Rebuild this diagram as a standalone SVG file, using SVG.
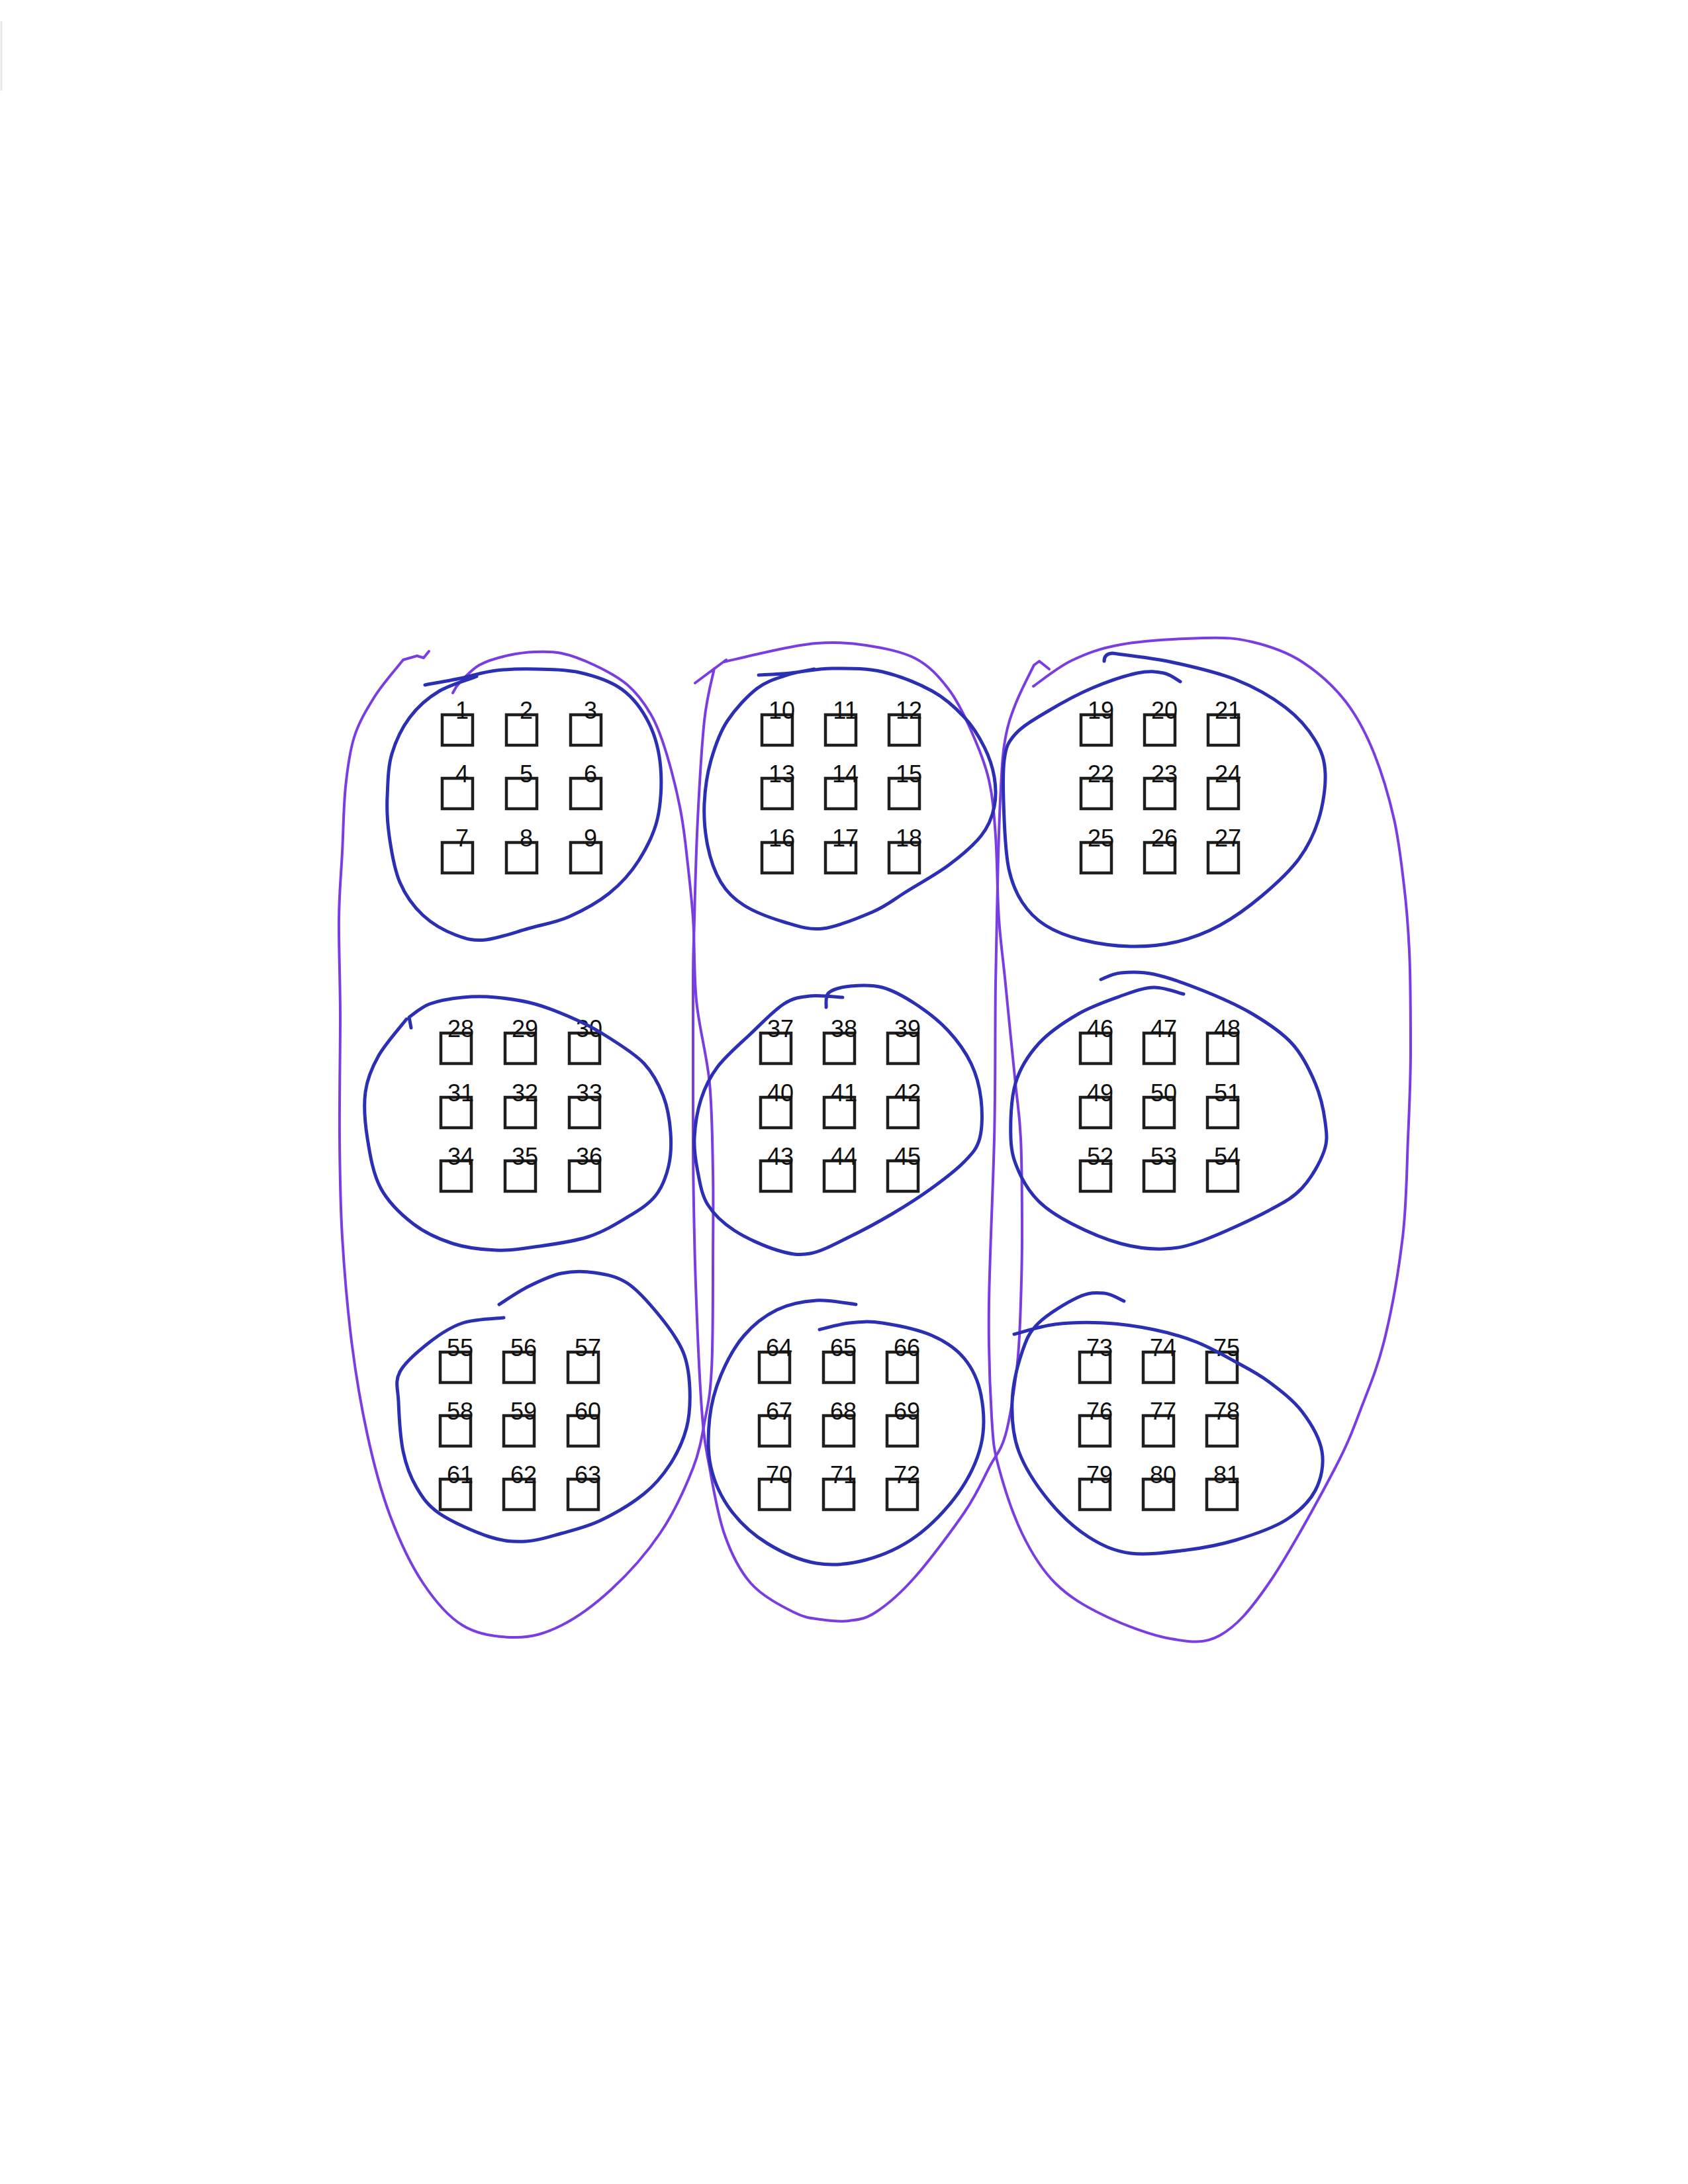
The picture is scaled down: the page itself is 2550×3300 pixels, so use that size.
<svg xmlns="http://www.w3.org/2000/svg" width="2550" height="3300" viewBox="0 0 2550 3300">
<style>
.box{fill:none;stroke:#1e1e1e;stroke-width:4.5}
.lbl{font-family:"Liberation Sans",Arial,sans-serif;font-size:36px;text-anchor:middle;fill:#111}
.blue{fill:none;stroke:#2b2fb3;stroke-width:5;stroke-linecap:round;stroke-linejoin:round}
.purple{fill:none;stroke:#7a3de2;stroke-width:4;stroke-linecap:round;stroke-linejoin:round}
</style>
<rect x="0" y="0" width="2550" height="3300" fill="#ffffff"/>
<line x1="2" y1="32" x2="2" y2="137" stroke="#e8e8e8" stroke-width="3"/>
<g id="nodes">
<g id="n1"><rect class="box" x="668" y="1080" width="46" height="46"/><text class="lbl" x="698" y="1086">1</text></g>
<g id="n2"><rect class="box" x="765" y="1080" width="46" height="46"/><text class="lbl" x="795" y="1086">2</text></g>
<g id="n3"><rect class="box" x="862" y="1080" width="46" height="46"/><text class="lbl" x="892" y="1086">3</text></g>
<g id="n4"><rect class="box" x="668" y="1176" width="46" height="46"/><text class="lbl" x="698" y="1182">4</text></g>
<g id="n5"><rect class="box" x="765" y="1176" width="46" height="46"/><text class="lbl" x="795" y="1182">5</text></g>
<g id="n6"><rect class="box" x="862" y="1176" width="46" height="46"/><text class="lbl" x="892" y="1182">6</text></g>
<g id="n7"><rect class="box" x="668" y="1273" width="46" height="46"/><text class="lbl" x="698" y="1279">7</text></g>
<g id="n8"><rect class="box" x="765" y="1273" width="46" height="46"/><text class="lbl" x="795" y="1279">8</text></g>
<g id="n9"><rect class="box" x="862" y="1273" width="46" height="46"/><text class="lbl" x="892" y="1279">9</text></g>
<g id="n10"><rect class="box" x="1151" y="1080" width="46" height="46"/><text class="lbl" x="1181" y="1086">10</text></g>
<g id="n11"><rect class="box" x="1247" y="1080" width="46" height="46"/><text class="lbl" x="1277" y="1086">11</text></g>
<g id="n12"><rect class="box" x="1343" y="1080" width="46" height="46"/><text class="lbl" x="1373" y="1086">12</text></g>
<g id="n13"><rect class="box" x="1151" y="1176" width="46" height="46"/><text class="lbl" x="1181" y="1182">13</text></g>
<g id="n14"><rect class="box" x="1247" y="1176" width="46" height="46"/><text class="lbl" x="1277" y="1182">14</text></g>
<g id="n15"><rect class="box" x="1343" y="1176" width="46" height="46"/><text class="lbl" x="1373" y="1182">15</text></g>
<g id="n16"><rect class="box" x="1151" y="1273" width="46" height="46"/><text class="lbl" x="1181" y="1279">16</text></g>
<g id="n17"><rect class="box" x="1247" y="1273" width="46" height="46"/><text class="lbl" x="1277" y="1279">17</text></g>
<g id="n18"><rect class="box" x="1343" y="1273" width="46" height="46"/><text class="lbl" x="1373" y="1279">18</text></g>
<g id="n19"><rect class="box" x="1633" y="1080" width="46" height="46"/><text class="lbl" x="1663" y="1086">19</text></g>
<g id="n20"><rect class="box" x="1729" y="1080" width="46" height="46"/><text class="lbl" x="1759" y="1086">20</text></g>
<g id="n21"><rect class="box" x="1825" y="1080" width="46" height="46"/><text class="lbl" x="1855" y="1086">21</text></g>
<g id="n22"><rect class="box" x="1633" y="1176" width="46" height="46"/><text class="lbl" x="1663" y="1182">22</text></g>
<g id="n23"><rect class="box" x="1729" y="1176" width="46" height="46"/><text class="lbl" x="1759" y="1182">23</text></g>
<g id="n24"><rect class="box" x="1825" y="1176" width="46" height="46"/><text class="lbl" x="1855" y="1182">24</text></g>
<g id="n25"><rect class="box" x="1633" y="1273" width="46" height="46"/><text class="lbl" x="1663" y="1279">25</text></g>
<g id="n26"><rect class="box" x="1729" y="1273" width="46" height="46"/><text class="lbl" x="1759" y="1279">26</text></g>
<g id="n27"><rect class="box" x="1825" y="1273" width="46" height="46"/><text class="lbl" x="1855" y="1279">27</text></g>
<g id="n28"><rect class="box" x="666" y="1561" width="46" height="46"/><text class="lbl" x="696" y="1567">28</text></g>
<g id="n29"><rect class="box" x="763" y="1561" width="46" height="46"/><text class="lbl" x="793" y="1567">29</text></g>
<g id="n30"><rect class="box" x="860" y="1561" width="46" height="46"/><text class="lbl" x="890" y="1567">30</text></g>
<g id="n31"><rect class="box" x="666" y="1658" width="46" height="46"/><text class="lbl" x="696" y="1664">31</text></g>
<g id="n32"><rect class="box" x="763" y="1658" width="46" height="46"/><text class="lbl" x="793" y="1664">32</text></g>
<g id="n33"><rect class="box" x="860" y="1658" width="46" height="46"/><text class="lbl" x="890" y="1664">33</text></g>
<g id="n34"><rect class="box" x="666" y="1754" width="46" height="46"/><text class="lbl" x="696" y="1760">34</text></g>
<g id="n35"><rect class="box" x="763" y="1754" width="46" height="46"/><text class="lbl" x="793" y="1760">35</text></g>
<g id="n36"><rect class="box" x="860" y="1754" width="46" height="46"/><text class="lbl" x="890" y="1760">36</text></g>
<g id="n37"><rect class="box" x="1149" y="1561" width="46" height="46"/><text class="lbl" x="1179" y="1567">37</text></g>
<g id="n38"><rect class="box" x="1245" y="1561" width="46" height="46"/><text class="lbl" x="1275" y="1567">38</text></g>
<g id="n39"><rect class="box" x="1341" y="1561" width="46" height="46"/><text class="lbl" x="1371" y="1567">39</text></g>
<g id="n40"><rect class="box" x="1149" y="1658" width="46" height="46"/><text class="lbl" x="1179" y="1664">40</text></g>
<g id="n41"><rect class="box" x="1245" y="1658" width="46" height="46"/><text class="lbl" x="1275" y="1664">41</text></g>
<g id="n42"><rect class="box" x="1341" y="1658" width="46" height="46"/><text class="lbl" x="1371" y="1664">42</text></g>
<g id="n43"><rect class="box" x="1149" y="1754" width="46" height="46"/><text class="lbl" x="1179" y="1760">43</text></g>
<g id="n44"><rect class="box" x="1245" y="1754" width="46" height="46"/><text class="lbl" x="1275" y="1760">44</text></g>
<g id="n45"><rect class="box" x="1341" y="1754" width="46" height="46"/><text class="lbl" x="1371" y="1760">45</text></g>
<g id="n46"><rect class="box" x="1632" y="1561" width="46" height="46"/><text class="lbl" x="1662" y="1567">46</text></g>
<g id="n47"><rect class="box" x="1728" y="1561" width="46" height="46"/><text class="lbl" x="1758" y="1567">47</text></g>
<g id="n48"><rect class="box" x="1824" y="1561" width="46" height="46"/><text class="lbl" x="1854" y="1567">48</text></g>
<g id="n49"><rect class="box" x="1632" y="1658" width="46" height="46"/><text class="lbl" x="1662" y="1664">49</text></g>
<g id="n50"><rect class="box" x="1728" y="1658" width="46" height="46"/><text class="lbl" x="1758" y="1664">50</text></g>
<g id="n51"><rect class="box" x="1824" y="1658" width="46" height="46"/><text class="lbl" x="1854" y="1664">51</text></g>
<g id="n52"><rect class="box" x="1632" y="1754" width="46" height="46"/><text class="lbl" x="1662" y="1760">52</text></g>
<g id="n53"><rect class="box" x="1728" y="1754" width="46" height="46"/><text class="lbl" x="1758" y="1760">53</text></g>
<g id="n54"><rect class="box" x="1824" y="1754" width="46" height="46"/><text class="lbl" x="1854" y="1760">54</text></g>
<g id="n55"><rect class="box" x="665" y="2043" width="46" height="46"/><text class="lbl" x="695" y="2049">55</text></g>
<g id="n56"><rect class="box" x="761" y="2043" width="46" height="46"/><text class="lbl" x="791" y="2049">56</text></g>
<g id="n57"><rect class="box" x="858" y="2043" width="46" height="46"/><text class="lbl" x="888" y="2049">57</text></g>
<g id="n58"><rect class="box" x="665" y="2139" width="46" height="46"/><text class="lbl" x="695" y="2145">58</text></g>
<g id="n59"><rect class="box" x="761" y="2139" width="46" height="46"/><text class="lbl" x="791" y="2145">59</text></g>
<g id="n60"><rect class="box" x="858" y="2139" width="46" height="46"/><text class="lbl" x="888" y="2145">60</text></g>
<g id="n61"><rect class="box" x="665" y="2235" width="46" height="46"/><text class="lbl" x="695" y="2241">61</text></g>
<g id="n62"><rect class="box" x="761" y="2235" width="46" height="46"/><text class="lbl" x="791" y="2241">62</text></g>
<g id="n63"><rect class="box" x="858" y="2235" width="46" height="46"/><text class="lbl" x="888" y="2241">63</text></g>
<g id="n64"><rect class="box" x="1147" y="2043" width="46" height="46"/><text class="lbl" x="1177" y="2049">64</text></g>
<g id="n65"><rect class="box" x="1244" y="2043" width="46" height="46"/><text class="lbl" x="1274" y="2049">65</text></g>
<g id="n66"><rect class="box" x="1340" y="2043" width="46" height="46"/><text class="lbl" x="1370" y="2049">66</text></g>
<g id="n67"><rect class="box" x="1147" y="2139" width="46" height="46"/><text class="lbl" x="1177" y="2145">67</text></g>
<g id="n68"><rect class="box" x="1244" y="2139" width="46" height="46"/><text class="lbl" x="1274" y="2145">68</text></g>
<g id="n69"><rect class="box" x="1340" y="2139" width="46" height="46"/><text class="lbl" x="1370" y="2145">69</text></g>
<g id="n70"><rect class="box" x="1147" y="2235" width="46" height="46"/><text class="lbl" x="1177" y="2241">70</text></g>
<g id="n71"><rect class="box" x="1244" y="2235" width="46" height="46"/><text class="lbl" x="1274" y="2241">71</text></g>
<g id="n72"><rect class="box" x="1340" y="2235" width="46" height="46"/><text class="lbl" x="1370" y="2241">72</text></g>
<g id="n73"><rect class="box" x="1631" y="2043" width="46" height="46"/><text class="lbl" x="1661" y="2049">73</text></g>
<g id="n74"><rect class="box" x="1727" y="2043" width="46" height="46"/><text class="lbl" x="1757" y="2049">74</text></g>
<g id="n75"><rect class="box" x="1823" y="2043" width="46" height="46"/><text class="lbl" x="1853" y="2049">75</text></g>
<g id="n76"><rect class="box" x="1631" y="2139" width="46" height="46"/><text class="lbl" x="1661" y="2145">76</text></g>
<g id="n77"><rect class="box" x="1727" y="2139" width="46" height="46"/><text class="lbl" x="1757" y="2145">77</text></g>
<g id="n78"><rect class="box" x="1823" y="2139" width="46" height="46"/><text class="lbl" x="1853" y="2145">78</text></g>
<g id="n79"><rect class="box" x="1631" y="2235" width="46" height="46"/><text class="lbl" x="1661" y="2241">79</text></g>
<g id="n80"><rect class="box" x="1727" y="2235" width="46" height="46"/><text class="lbl" x="1757" y="2241">80</text></g>
<g id="n81"><rect class="box" x="1823" y="2235" width="46" height="46"/><text class="lbl" x="1853" y="2241">81</text></g>
</g>
<g id="connectors">
<g id="columns">
<path id="col1" class="purple" d="M648,984 L640,994 L630,991 L609,997 C601.7,1006.5 577,1034.5 565,1054 S542,1091.5 535,1114 S525,1160 522,1189 S518.7,1255 517,1288 S512.5,1346.5 512,1388 S514,1482 514,1537 S512.5,1665 513,1720 S514,1819 517,1869 S524,1968 530,2018 S545,2122 555,2168 S576,2255 590,2292 S621,2365 639,2392 S676,2442 699,2456 S754,2474 779,2474 S824,2468 848,2456 S898,2425 923,2402 S976,2348 997,2317 S1035.5,2247.5 1047,2218 S1061,2165 1066,2140 S1073,2105 1075,2068 S1077,1969 1077,1919 S1078,1817 1077,1770 S1076,1680 1072,1637 S1056,1553.5 1052,1512 S1049.5,1425 1047,1388 S1040,1316 1037,1288 S1032,1244 1027,1219 S1014,1162 1007,1139 S993,1096 983,1079 S962,1047 948,1035 S915,1013 898,1005 S863,990 848,987 S821,984.5 808,985 S783,987 769,990 S736.5,998 724,1005 S701,1025 694,1032 S686,1044.5 684,1047"/>
<path id="col2" class="purple" d="M1094,1000 C1105,997.5 1136,990 1159,985 S1208,974 1233,972 S1283,971 1308,975 S1362,984 1383,995 S1418,1022 1432,1040 S1457,1081 1467,1104 S1488,1152.5 1494,1179 S1501.5,1228 1504,1263 S1506.5,1351 1509,1388 S1515,1445.5 1519,1487 S1530,1598 1534,1637 S1540,1681 1542,1720 S1544,1827.5 1544,1869 S1543,1936 1542,1969 S1540,2035 1536,2068 S1526,2143 1519,2168 S1504,2198.5 1494,2218 S1475.5,2258 1457,2285 S1405,2357 1383,2382 S1340,2425 1323,2436 S1297,2447 1283,2449 S1254,2449 1240,2447 S1217,2445 1199,2436 S1151.5,2412 1134,2392 S1104,2346 1094,2317 S1077,2245 1072,2218 S1065,2186 1062,2153 S1056,2065 1054,2018 S1050,1919 1049,1869 S1047,1784 1047,1720 S1047,1542 1047,1487 S1048,1429.5 1049,1388 S1051.5,1288 1054,1238 S1060,1127 1064,1089 S1076.5,1023 1079,1010 M1050,1032 L1097,997"/>
<path id="col3" class="purple" d="M1561,1037 C1570.7,1030.5 1597,1008.5 1619,998 S1660,980 1693,974 S1785,965 1818,964 S1867,964 1892,970 S1944,985 1967,1000 S2014,1036 2032,1059 S2064,1109 2076,1139 S2098.5,1205 2106,1238 S2117,1305 2121,1338 S2127,1395.5 2129,1437 S2131,1540 2131,1587 S2129,1673 2127,1720 S2125,1819 2119,1869 S2103,1976.5 2093,2018 S2073,2085 2060,2118 S2041,2172 2017,2218 S1946,2350 1917,2392 S1868,2457 1843,2471 S1797,2481 1768,2476 S1697,2455 1668,2441 S1615,2413 1594,2392 S1558,2346 1544,2317 S1517,2247.5 1509,2218 S1500.5,2181.5 1498,2140 S1493,2039 1494,1969 S1500,1800 1502,1720 S1503,1551 1504,1487 S1506,1388 1507,1338 S1510,1226 1512,1189 S1515,1135 1519,1114 S1527,1082 1534,1064 S1557,1015 1562,1005 L1570,999 L1585,1011"/>
</g>
<g id="groups">
<path id="grp1" class="blue" d="M642,1035 C652,1033 682,1028 700,1024 S732,1015 750,1013 S789,1010.5 810,1011 S853,1011 875,1016 S922.5,1029 940,1042 S970,1072 980,1092 S996,1136 998,1160 S998.5,1215 993,1238 S977,1281 965,1300 S937.5,1336 920,1350 S880,1376 860,1385 S819,1397 798,1403 S752,1418 734,1420 S705,1419 689,1413 S653,1396 639,1383 S612.5,1353 604,1333 S591,1284.5 588,1263 S584,1225 585,1204 S586,1159 592,1139 S607,1100 619,1084 S647,1054 664,1044 S711,1026 720,1022"/>
<path id="grp2" class="blue" d="M1146,1020 C1154,1019.5 1175,1019 1194,1017 S1235,1010 1258,1010 S1308,1009 1333,1015 S1387,1032.5 1408,1044 S1444,1070 1457,1084 S1479.5,1114 1487,1129 S1499.5,1159 1502,1174 S1505,1204 1502,1219 S1494,1248 1482,1263 S1451,1294 1432,1308 S1387,1336 1368,1348 S1339,1369 1318,1378 S1265,1400.5 1243,1403 S1204,1399 1184,1393 S1140,1378 1124,1368 S1098,1348 1089,1333 S1073,1298 1069,1278 S1063,1235.5 1064,1214 S1068,1170 1074,1149 S1087,1107 1099,1089 S1129,1051.5 1144,1040 S1175,1025 1189,1020 S1223,1012.5 1230,1011"/>
<path id="grp3" class="blue" d="M1668,999 Q1668,988 1680,987 C1694.7,989.2 1736.8,993.3 1768,1000 S1838,1015.5 1867,1027 S1922,1053.7 1942,1069 S1977,1102.3 1987,1119 S2001.2,1149.2 2002,1169 S1998.7,1216.5 1992,1238 S1976.2,1278.8 1962,1298 S1926.8,1336.3 1907,1353 S1864.5,1386.3 1843,1398 S1800.5,1417.7 1778,1423 S1732,1430.5 1708,1430 S1655.5,1425.3 1634,1420 S1594,1407.5 1579,1398 S1553.2,1377.2 1544,1363 S1528.5,1333.8 1524,1313 S1518.2,1265.3 1517,1238 S1514.2,1170.5 1517,1149 S1522.8,1121.5 1534,1109 S1564.8,1085.5 1584,1074 S1626.7,1049.5 1649,1040 S1699.8,1020.8 1718,1017 S1747.2,1014.8 1758,1017 S1778.8,1027.8 1783,1030"/>
<path id="grp4" class="blue" d="M621,1553 L618,1537 C623.2,1533.7 635.5,1522 649,1517 S682.3,1508.7 699,1507 S730.8,1505.3 749,1507 S787.3,1511.2 808,1517 S854.3,1533.5 873,1542 S903.3,1557.2 920,1568 S959.3,1592.3 973,1607 S995.3,1638.7 1002,1656 S1011.7,1693.3 1013,1711 S1013.8,1746 1010,1762 S1000.3,1794.2 990,1807 S965,1828.7 948,1839 S911.3,1861.5 888,1869 S831.2,1880.7 808,1884 S769.7,1889.8 749,1889 S704.8,1885.7 684,1879 S642.2,1863 624,1849 S586.5,1816.5 575,1795 S558.8,1744.2 555,1720 S549.2,1670.8 552,1650 S561.7,1613.3 572,1595 S607,1549.2 614,1540"/>
<path id="grp5" class="blue" d="M1248,1522 C1248.7,1518.3 1245.8,1505.3 1252,1500 S1271.5,1491.3 1285,1490 S1316.7,1487.5 1333,1492 S1366.5,1506.2 1383,1517 S1418,1542 1432,1557 S1458.7,1589.7 1467,1607 S1479.8,1642.2 1482,1661 S1484.2,1704.3 1480,1720 S1469,1742.5 1457,1755 S1426.2,1781.8 1408,1795 S1368.8,1821.7 1348,1834 S1303.7,1859 1283,1869 S1242.2,1890.7 1224,1894 S1193.2,1894.8 1174,1889 S1126.5,1870.5 1109,1859 S1078.2,1834.8 1069,1820 S1057.3,1786.7 1054,1770 S1048.2,1738.2 1049,1720 S1053.2,1679 1059,1661 S1071.5,1628.5 1084,1612 S1117.3,1577.8 1134,1562 S1169.2,1526.5 1184,1517 S1208.2,1506.7 1223,1505 S1264.7,1506.7 1273,1507"/>
<path id="grp6" class="blue" d="M1663,1480 C1668,1478.3 1679.7,1471.3 1693,1470 S1722.2,1467.5 1743,1472 S1793.2,1487 1818,1497 S1869.7,1518.7 1892,1532 S1936.2,1559.5 1952,1577 S1978.7,1617.2 1987,1637 S1999.8,1678.8 2002,1696 S2005.8,1723.5 2000,1740 S1980.8,1780.2 1967,1795 S1941.8,1815.8 1917,1829 S1844.5,1864.3 1818,1874 S1778.8,1886.2 1758,1887 S1716.2,1885.3 1693,1879 S1639.7,1859.7 1619,1849 S1582.3,1828.2 1569,1815 S1546,1785.8 1539,1770 S1527.8,1742.2 1527,1720 S1527,1660.8 1534,1637 S1553.2,1594.5 1569,1577 S1608.3,1544 1629,1532 S1674,1511.7 1693,1505 S1727.2,1492.5 1743,1492 S1780.5,1500.3 1788,1502"/>
<path id="grp7" class="blue" d="M754,1971 C761.3,1966.5 782.3,1951.8 798,1944 S831.3,1927.5 848,1924 S881.3,1920.5 898,1923 S931.5,1928 948,1939 S983,1971.7 997,1989 S1024.5,2024.8 1032,2043 S1041.2,2078.8 1042,2098 S1042,2138.8 1037,2158 S1022.7,2196.5 1012,2213 S990.3,2243 973,2257 S928.8,2287 908,2297 S867,2311.7 848,2317 S812.2,2328.2 794,2329 S760.7,2329 739,2322 S682.3,2299.5 664,2287 S638.2,2262.7 629,2247 S613.5,2214.5 609,2193 S602.8,2138 602,2118 S596.2,2088 604,2073 S633.2,2040.3 649,2028 S680.3,2005.2 699,1999 S750.7,1992.3 761,1991"/>
<path id="grp8" class="blue" d="M1293,1971 C1283,1970 1252.8,1963.7 1233,1965 S1192.2,1970.2 1174,1979 S1138.2,2001.5 1124,2018 S1097.7,2057.2 1089,2078 S1074.5,2119.8 1072,2143 S1068.7,2193.8 1074,2217 S1089.8,2262.8 1104,2282 S1137.5,2318.7 1159,2332 S1208.2,2357.8 1233,2362 S1283,2363.7 1308,2357 S1359.8,2338.7 1383,2322 S1430.5,2280.2 1447,2257 S1476.2,2207.8 1482,2183 S1486.2,2129.7 1482,2108 S1469.3,2068 1457,2053 S1428.7,2027 1408,2018 S1353.8,2002.2 1333,1999 S1298.8,1997.3 1283,1999 S1245.5,2007.3 1238,2009"/>
<path id="grp9" class="blue" d="M1698,1966 C1693,1964 1679.5,1955 1668,1954 S1645.5,1952.5 1629,1960 S1583.2,1985.2 1569,1999 S1550.7,2023.2 1544,2043 S1529.8,2093 1529,2118 S1529.8,2168.2 1539,2193 S1566.5,2245.5 1584,2267 S1623.3,2308.7 1644,2322 S1683.2,2343.7 1708,2347 S1766.5,2345.3 1793,2342 S1842.2,2334.5 1867,2327 S1922,2309.5 1942,2297 S1977.8,2269.3 1987,2252 S2000.3,2212.8 1997,2193 S1980.3,2150.5 1967,2133 S1933.7,2100.5 1917,2088 S1885.2,2068 1867,2058 S1828.7,2036.2 1808,2028 S1766.3,2013.8 1743,2009 S1692.8,2000.3 1668,1999 S1616.7,1998.2 1594,2001 S1542.3,2013.5 1532,2016"/>
</g>
</g>
</svg>
